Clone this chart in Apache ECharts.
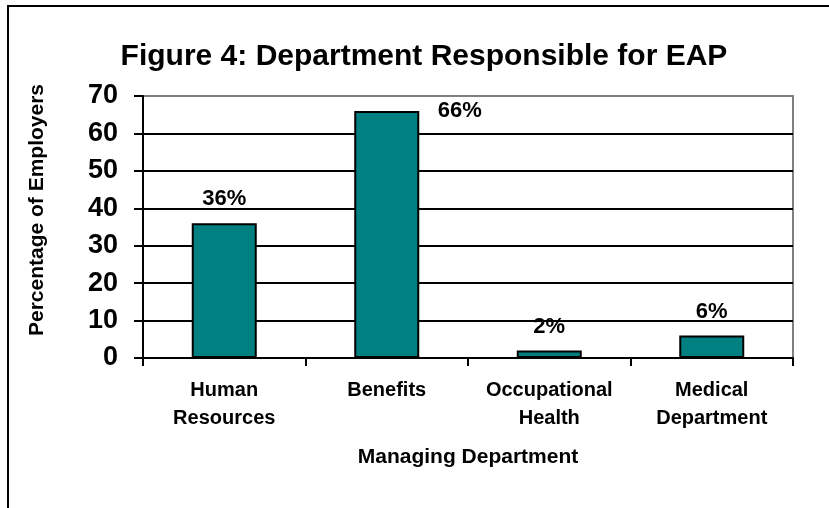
<!DOCTYPE html>
<html>
<head>
<meta charset="utf-8">
<script src="https://cdn.jsdelivr.net/npm/echarts@6/dist/echarts.min.js"></script>
<style>
  html, body { margin: 0; padding: 0; background: #fff; }
  #chart { width: 829px; height: 508px; }
</style>
</head>
<body>
<div id="chart"></div>
<script>
// Share of employers by the department that manages their EAP
const departments = ['Human\nResources', 'Benefits', 'Occupational\nHealth', 'Medical\nDepartment'];
const percentages = [36, 66, 2, 6];
const yTicks = [0, 10, 20, 30, 40, 50, 60, 70];

const FONT = '"Liberation Sans", Arial, sans-serif';

const chart = echarts.init(document.getElementById('chart'), null, { renderer: 'canvas' });

// Gridlines: all black except the top edge of the plot frame, which is grey
const splitColors = yTicks.map((t, i) => (i === yTicks.length - 1 ? '#808080' : '#000'));

const barData = percentages.map((v, i) => {
  const item = { value: v };
  if (i === 1) {
    // the Benefits label sits beside the top of its bar
    item.label = { offset: [73, 24] };
  }
  return item;
});

chart.setOption({
  animation: false,
  backgroundColor: '#fff',
  title: {
    text: 'Figure 4: Department Responsible for EAP',
    left: 419,
    top: 37,
    textAlign: 'center',
    textStyle: { fontFamily: FONT, fontWeight: 'bold', fontSize: 30, color: '#000' }
  },
  graphic: [
    {
      type: 'polyline',
      shape: { points: [[8, 508], [8, 6], [829, 6]] },
      style: { stroke: '#000', lineWidth: 2, fill: null },
      silent: true
    },
    {
      type: 'text',
      x: 37,
      y: 210,
      rotation: Math.PI / 2,
      style: {
        text: 'Percentage of Employers',
        font: 'bold 21px ' + FONT,
        fill: '#000',
        align: 'center',
        verticalAlign: 'middle'
      },
      silent: true
    }
  ],
  grid: {
    left: 143,
    right: 36,
    top: 96,
    bottom: 150,
    show: true,
    borderColor: '#808080',
    borderWidth: 2
  },
  xAxis: {
    type: 'category',
    data: departments,
    name: 'Managing Department',
    nameLocation: 'middle',
    nameGap: 89,
    nameTextStyle: { fontFamily: FONT, fontWeight: 'bold', fontSize: 21, color: '#000' },
    axisLine: { show: true, lineStyle: { color: '#000', width: 2 } },
    axisTick: { show: true, length: 8, lineStyle: { color: '#000', width: 2 } },
    axisLabel: {
      fontFamily: FONT, fontWeight: 'bold', fontSize: 20, color: '#000',
      lineHeight: 28, margin: 18, interval: 0
    },
    splitLine: { show: false }
  },
  yAxis: {
    type: 'value',
    min: 0,
    max: 70,
    interval: 10,
    axisLine: { show: true, lineStyle: { color: '#000', width: 2 } },
    axisTick: { show: true, length: 9, lineStyle: { color: '#000', width: 2 } },
    axisLabel: {
      fontFamily: FONT, fontWeight: 'bold', fontSize: 27, color: '#000', margin: 25
    },
    splitLine: { show: true, lineStyle: { color: splitColors, width: 2 } }
  },
  series: [
    {
      type: 'bar',
      data: barData,
      barWidth: 65,
      itemStyle: { color: '#008080', borderColor: '#000', borderWidth: 2 },
      label: {
        show: true,
        position: 'top',
        distance: 13,
        formatter: '{c}%',
        fontFamily: FONT,
        fontWeight: 'bold',
        fontSize: 22,
        color: '#000'
      }
    }
  ]
});
</script>
</body>
</html>
